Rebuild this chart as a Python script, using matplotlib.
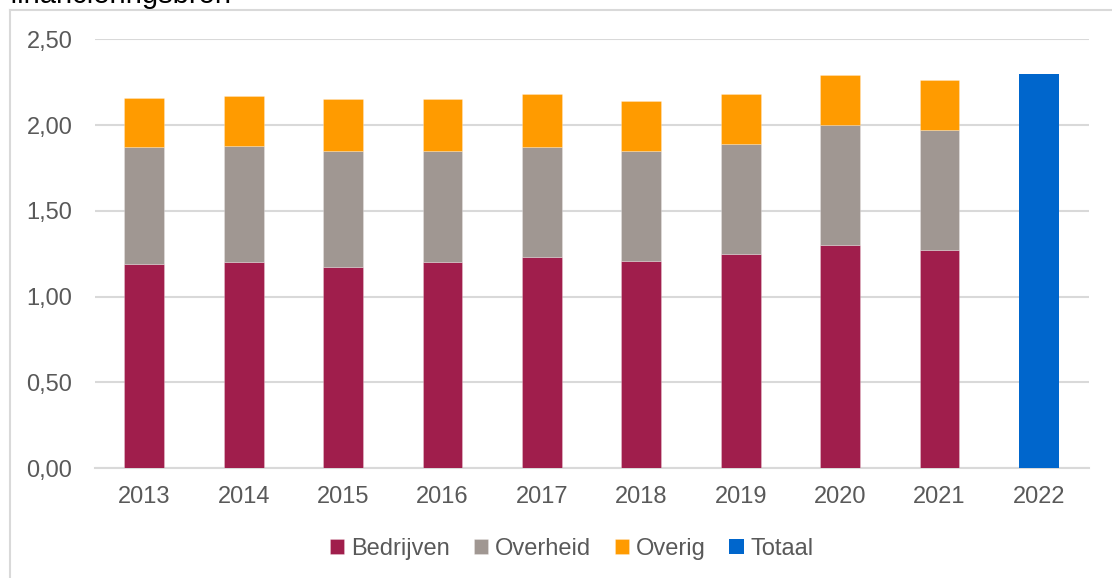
import numpy as np
import matplotlib
matplotlib.use('Agg')
import matplotlib.pyplot as plt
from matplotlib.ticker import FuncFormatter
from matplotlib.lines import Line2D

plt.rc('font', family=['Liberation Sans', 'DejaVu Sans'])

# data
years = ['2013', '2014', '2015', '2016', '2017', '2018', '2019', '2020', '2021', '2022']
bedrijven = [1.19, 1.20, 1.17, 1.20, 1.23, 1.21, 1.25, 1.30, 1.27, np.nan]
overheid = [0.68, 0.68, 0.68, 0.65, 0.64, 0.64, 0.64, 0.70, 0.70, np.nan]
overig = [0.29, 0.29, 0.30, 0.30, 0.31, 0.29, 0.29, 0.29, 0.29, np.nan]
totaal = [np.nan] * 9 + [2.30]

c_bed = '#A01E4C'
c_ovh = '#A09792'
c_ovr = '#FF9B00'
c_tot = '#0066CC'
c_txt = '#595959'
c_grid = '#D9D9D9'
fs = 17

fig = plt.figure(figsize=(11.12, 5.78), dpi=100)
ax = fig.add_axes([0.085, 0.190, 0.894, 0.742])

x = np.arange(len(years))
w = 0.40
bed = np.array(bedrijven)
ovh = np.array(overheid)
ovr = np.array(overig)

ax.bar(x, bed, w, color=c_bed, label='Bedrijven', zorder=3, edgecolor='#ffffff55', linewidth=0.5)
ax.bar(x, ovh, w, bottom=bed, color=c_ovh, label='Overheid', zorder=3, edgecolor='#ffffff55', linewidth=0.5)
ax.bar(x, ovr, w, bottom=bed + ovh, color=c_ovr, label='Overig', zorder=3, edgecolor='#ffffff55', linewidth=0.5)
ax.bar(x, totaal, w, color=c_tot, label='Totaal', zorder=3)

ax.set_xlim(-0.5, len(years) - 0.5)
ax.set_ylim(0, 2.5)
ax.set_yticks(np.arange(0, 2.51, 0.5))
ax.yaxis.set_major_formatter(FuncFormatter(lambda v, p: ('%.2f' % v).replace('.', ',')))
ax.set_xticks(x)
ax.set_xticklabels(years)
ax.tick_params(axis='both', length=0, labelsize=fs, colors=c_txt)
ax.tick_params(axis='x', pad=13)
ax.tick_params(axis='y', pad=16)
ax.grid(axis='y', color=c_grid, linewidth=1.5, zorder=0)
for s in ['top', 'right', 'left']:
    ax.spines[s].set_visible(False)
ax.spines['bottom'].set_color(c_grid)
ax.spines['bottom'].set_linewidth(1.5)

leg = fig.legend(loc='center', bbox_to_anchor=(572 / 1112, 29 / 578), ncol=4, frameon=False,
                 fontsize=fs, handlelength=0.6, handleheight=0.6, handletextpad=0.3,
                 columnspacing=1.0)
for t in leg.get_texts():
    t.set_color(c_txt)

# title is cut off at the top edge in the reference, as is the outer chart border
fig.text(10 / 1112, 1 - 3 / 578, 'financieringsbron', fontsize=21, color='#000000',
         va='baseline', ha='left')
fig.add_artist(Line2D([10 / 1112, 10 / 1112], [0, 1 - 10 / 578], color=c_grid, lw=1.5))
fig.add_artist(Line2D([10 / 1112, 1], [1 - 10 / 578, 1 - 10 / 578], color=c_grid, lw=1.5))

fig.savefig('out.png', dpi=100)
